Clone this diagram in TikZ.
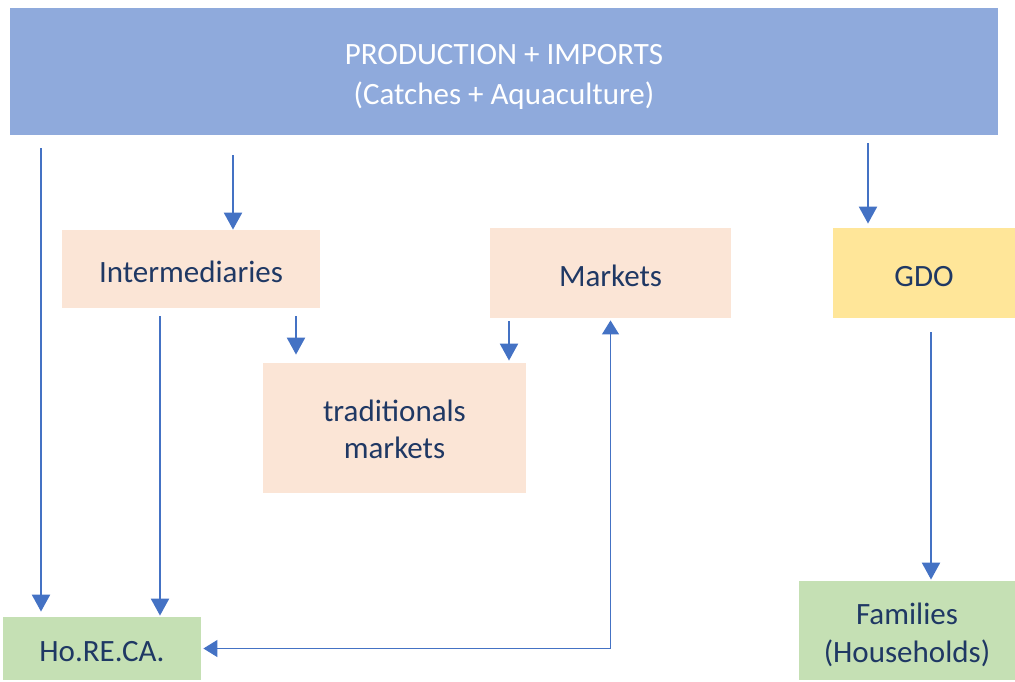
\documentclass[tikz,border=0pt]{standalone}
\usepackage{fontspec}
\setmainfont{Carlito}
\usetikzlibrary{arrows.meta}

\definecolor{headblue}{HTML}{8FAADC}
\definecolor{peach}{HTML}{FBE5D6}
\definecolor{gdoyellow}{HTML}{FFE699}
\definecolor{endgreen}{HTML}{C5E0B4}
\definecolor{lineblue}{HTML}{4472C4}
\definecolor{textnavy}{HTML}{1F3864}

\begin{document}
\begin{tikzpicture}[x=.5pt,y=-.5pt,
   box/.style={inner sep=0pt,text=textnavy,align=center,font=\fontsize{15.5}{19}\selectfont,
               execute at begin node={\rule{0pt}{13.5pt}}},
   flow/.style={draw=lineblue,line width=1.1pt,-{Triangle[width=9pt,length=8.5pt]}},
   loop/.style={draw=lineblue,line width=.6pt,{Triangle[width=8.5pt,length=7pt]}-{Triangle[width=8.5pt,length=7pt]}}]
   \useasboundingbox (0,0) rectangle (1015,681);

   % two-line boxes carry their text as a centred label, set a little lower
   \node[box,fill=headblue,minimum width=494pt,minimum height=63.5pt,
         label={[box,text=white,font=\fontsize{15.5}{20}\selectfont,yshift=-2.5pt]center:{PRODUCTION + IMPORTS\\(Catches + Aquaculture)}}] (prod) at (504,71.5) {};
   \node[box,fill=peach,minimum width=129pt,minimum height=39pt]   (inter)   at (191,269)   {Intermediaries};
   \node[box,fill=peach,minimum width=120.5pt,minimum height=45pt] (markets) at (610.5,273) {Markets};
   \node[box,fill=gdoyellow,minimum width=91pt,minimum height=45pt] (gdo)   at (924,273)   {GDO};
   \node[box,fill=peach,minimum width=131.5pt,minimum height=65pt,
         label={[box,font=\fontsize{15.5}{18.5}\selectfont,yshift=-.75pt]center:{traditionals\\markets}}] (trad) at (394.5,428) {};
   \node[box,fill=endgreen,minimum width=99pt,minimum height=31.5pt] (horeca) at (102,648.5) {Ho.RE.CA.};
   \node[box,fill=endgreen,minimum width=108pt,minimum height=49.5pt,
         label={[box,yshift=-2.2pt]center:{Families\\(Households)}}] (fam) at (907,630.5) {};

   \coordinate (x1) at (41,0);
   \coordinate (x2) at (233,0);
   \coordinate (x3) at (868,0);
   \coordinate (x4) at (296,0);
   \coordinate (x5) at (509,0);
   \coordinate (x6) at (160,0);
   \coordinate (x7) at (931,0);

   \draw[flow,shorten <=6.5pt,shorten >=2.5pt] (prod.south -| x1) -- (horeca.north -| x1);
   \draw[flow,shorten <=10pt] (prod.south -| x2) -- (inter.north -| x2);
   \draw[flow,shorten <=4pt,shorten >=2pt] (prod.south -| x3) -- (gdo.north -| x3);
   \draw[flow,shorten <=4pt,shorten >=4pt] (inter.south -| x4) -- (trad.north -| x4);
   \draw[flow,shorten <=1.5pt,shorten >=1pt] (markets.south -| x5) -- (trad.north -| x5);
   \draw[flow,shorten <=4pt,shorten >=.5pt] (inter.south -| x6) -- (horeca.north -| x6);
   \draw[flow,shorten <=7pt,shorten >=.5pt] (gdo.south -| x7) -- (fam.north -| x7);
   \draw[loop,shorten <=1pt,shorten >=1pt] (markets.south) |- (horeca.east);
\end{tikzpicture}
\end{document}
